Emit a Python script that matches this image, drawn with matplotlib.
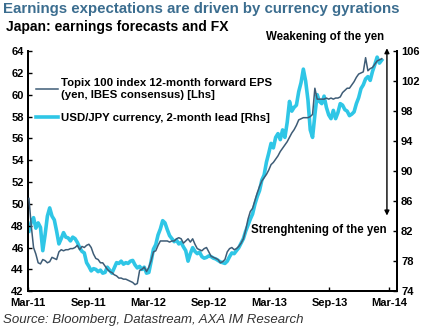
import matplotlib
matplotlib.use("AGG")
import numpy as np
import pandas as pd
import matplotlib.pyplot as plt
import matplotlib.dates as mdates

plt.rcParams['font.family'] = ['Liberation Sans', 'DejaVu Sans']

# weekly observations, Fridays
dates = pd.date_range('2011-03-04', periods=154, freq='W-FRI')

# Topix 100 12-month forward EPS (yen), left axis
eps = [
    50.5, 48.0, 46.0, 45.4, 44.6, 44.5, 44.9, 44.8, 44.6, 44.7,
    45.1, 45.0, 44.9, 45.6, 45.8, 45.7, 45.8, 45.8, 45.9, 45.9,
    46.0, 46.2, 45.8, 46.1, 46.0, 46.2, 46.3, 46.0, 45.4, 45.0,
    44.9, 44.6, 44.6, 44.3, 44.0, 43.8, 43.7, 43.5, 43.4, 43.2,
    43.2, 43.1, 43.1, 43.0, 42.9, 42.8, 42.6, 42.7, 43.9, 44.0,
    44.2, 43.8, 44.2, 44.8, 45.6, 45.7, 46.2, 46.6, 46.6, 46.6,
    46.6, 46.5, 46.6, 46.6, 46.8, 46.9, 46.8, 46.4, 46.6, 46.8,
    46.5, 46.8, 46.3, 45.9, 45.8, 45.7, 45.9, 46.0, 45.6, 45.2,
    45.1, 45.0, 44.9, 44.6, 44.7, 44.9, 45.6, 45.9, 46.0, 45.8,
    45.9, 46.1, 46.4, 46.8, 47.6, 48.6, 49.3, 49.6, 50.3, 51.0,
    51.6, 52.1, 52.4, 52.7, 53.1, 53.6, 53.8, 54.1, 54.4, 54.8,
    55.1, 55.4, 55.7, 56.1, 56.5, 56.8, 57.2, 57.7, 57.8, 57.9,
    57.9, 57.9, 58.0, 58.2, 60.6, 59.6, 59.6, 59.6, 59.6, 59.7,
    59.6, 59.7, 59.6, 59.7, 59.7, 59.8, 60.2, 60.4, 60.6, 60.6,
    60.9, 61.2, 61.6, 61.9, 62.0, 62.1, 63.4, 62.2, 62.4, 62.5,
    62.8, 63.1, 63.2, 63.3,
]

# USD/JPY, shifted two months ahead, right axis
usdjpy = [
    82.0, 83.2, 83.8, 82.4, 83.1, 82.5, 79.4, 81.5, 84.0, 85.1,
    84.0, 83.5, 82.0, 80.3, 81.0, 81.8, 81.2, 81.1, 80.7, 81.2,
    81.0, 80.5, 79.8, 79.3, 79.1, 77.8, 77.3, 76.7, 77.0, 76.9,
    76.6, 76.8, 76.4, 76.5, 77.2, 76.8, 76.4, 77.1, 77.8, 77.7,
    78.0, 77.6, 77.8, 77.7, 78.0, 78.1, 77.5, 77.1, 77.3, 76.9,
    77.2, 76.4, 76.5, 78.0, 79.6, 80.2, 81.5, 82.3, 83.4, 83.1,
    82.2, 81.4, 81.0, 80.6, 80.8, 80.3, 80.5, 79.9, 79.4, 78.0,
    79.0, 79.8, 79.3, 79.0, 79.2, 78.6, 78.4, 78.5, 78.7, 78.6,
    78.4, 78.3, 78.1, 77.9, 77.8, 77.7, 78.0, 78.6, 79.1, 79.0,
    79.4, 79.8, 80.4, 81.0, 82.0, 82.8, 83.6, 84.3, 85.6, 86.6,
    87.4, 88.8, 89.5, 91.2, 92.4, 93.7, 93.1, 94.5, 95.0, 94.2,
    95.5, 94.5, 96.5, 99.3, 98.0, 98.5, 98.8, 100.6, 101.8, 103.6,
    102.0, 99.5, 95.5, 94.5, 97.5, 100.2, 99.3, 99.0, 100.0, 98.5,
    97.5, 97.0, 98.1, 97.0, 97.8, 99.0, 98.8, 98.2, 98.0, 97.4,
    97.6, 97.9, 99.0, 99.8, 101.0, 101.5, 102.3, 102.6, 102.1, 103.3,
    104.2, 105.2, 104.4, 104.8,
]

xticks = pd.date_range('2011-03-01', '2014-03-01', freq='6MS')

dark = '#3E5C76'
cyan = '#2FC6E6'

fig = plt.figure(figsize=(4.30, 3.32), dpi=100)
ax = fig.add_axes([0.065, 0.123, 0.858, 0.723])
ax2 = ax.twinx()

l1, = ax.plot(dates, eps, color=dark, lw=1.1, zorder=3,
              label='Topix 100 index 12-month forward EPS\n(yen, IBES consensus) [Lhs]')
l2, = ax2.plot(dates, usdjpy, color=cyan, lw=2.6, zorder=2,
               label='USD/JPY currency, 2-month lead [Rhs]')
ax.set_zorder(ax2.get_zorder() + 1)
ax.patch.set_visible(False)

ax.set_ylim(42, 64)
ax.set_yticks(np.arange(42, 65, 2))
ax2.set_ylim(74, 106)
ax2.set_yticks(np.arange(74, 107, 4))
ax.set_xlim(pd.Timestamp('2011-03-01'), pd.Timestamp('2014-03-25'))
ax.set_xticks(xticks)
ax.xaxis.set_major_formatter(mdates.DateFormatter('%b-%y'))

for a in (ax, ax2):
    a.spines['top'].set_visible(False)
    for s in a.spines.values():
        s.set_linewidth(1.4)
    a.tick_params(direction='in', length=3, width=1.0, labelsize=8, pad=3)
    for t in a.get_xticklabels() + a.get_yticklabels():
        t.set_fontweight('bold')
ax.tick_params(axis='x', pad=5)

leg = ax.legend(handles=[l1, l2], loc='upper left', bbox_to_anchor=(0.01, 0.905),
                frameon=False, fontsize=8.2, handlelength=1.9, handletextpad=0.3,
                labelspacing=1.1, borderaxespad=0)
for t in leg.get_texts():
    t.set_fontweight('bold')

# direction arrow for the currency
ax.annotate('', xy=(0.973, 1.012), xytext=(0.973, 0.315), xycoords='axes fraction',
            arrowprops=dict(arrowstyle='<|-|>', color='black', lw=1.0,
                            mutation_scale=7, shrinkA=0, shrinkB=0),
            annotation_clip=False)
ax.text(0.965, 1.035, 'Weakening of the yen', transform=ax.transAxes,
        ha='right', va='bottom', fontsize=8.3, fontweight='bold')
ax.text(0.972, 0.255, 'Strenghtening of the yen', transform=ax.transAxes,
        ha='right', va='center', fontsize=8.3, fontweight='bold')

fig.text(0.008, 0.972, 'Earnings expectations are driven by currency gyrations',
         fontsize=10.8, fontweight='bold', color='#3B6D8F', va='center')
fig.text(0.015, 0.918, 'Japan: earnings forecasts and FX',
         fontsize=10, fontweight='bold', color='black', va='center')
fig.text(0.008, 0.035, 'Source: Bloomberg, Datastream, AXA IM Research',
         fontsize=9.5, style='italic', color='#333333', va='center')

fig.savefig('out.png', dpi=100)
